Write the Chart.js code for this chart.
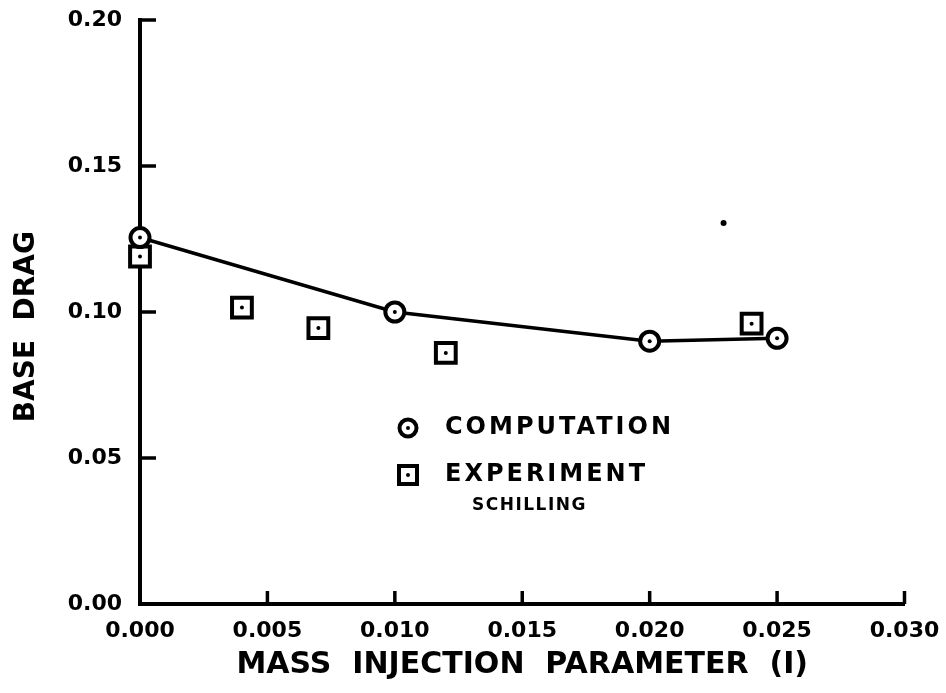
<!DOCTYPE html>
<html>
<head>
<meta charset="utf-8">
<script src="https://cdn.jsdelivr.net/npm/chart.js@4.4.0/dist/chart.umd.min.js"></script>
<style>
    html, body { margin: 0; padding: 0; background: #fff; }
    #wrap { width: 946px; height: 693px; }
</style>
</head>
<body>
<div id="wrap"><canvas id="baseDragChart" width="946" height="693"></canvas></div>
<script>
// --- Data ---
const computedInjection = [0.000, 0.010, 0.020, 0.025];
const computedDrag = [0.1255, 0.100, 0.090, 0.091];

const schillingInjection = [0.000, 0.004, 0.007, 0.012, 0.024];
const schillingDrag = [0.119, 0.1015, 0.0945, 0.086, 0.096];

// lone speck above the curve
const speckInjection = [0.0229];
const speckDrag = [0.1305];

const xTickValues = [0.000, 0.005, 0.010, 0.015, 0.020, 0.025, 0.030];
const yTickValues = [0.00, 0.05, 0.10, 0.15, 0.20];

const legendLabels = ['COMPUTATION', 'EXPERIMENT'];
const legendNote = 'SCHILLING';

const INK = '#000';
const FONT = "'DejaVu Sans', sans-serif";

const toPoints = (xs, ys) => xs.map((x, i) => ({ x: x, y: ys[i] }));

// drop the extra room chart.js reserves for overhanging tick labels,
// so the layout padding alone places the plot area
const noOverhang = (scale) => {
    scale.paddingTop = 0;
    scale.paddingBottom = 0;
    scale.paddingLeft = 0;
    scale.paddingRight = 0;
};

// --- Inward ticks on both axes ---
const inwardTicks = {
    id: 'inwardTicks',
    afterDraw: (chart) => {
        const { ctx, chartArea, scales } = chart;
        ctx.save();
        ctx.strokeStyle = INK;
        ctx.lineWidth = 3.5;
        ctx.lineCap = 'butt';
        yTickValues.forEach(v => {
            if (v === 0) return;
            const py = scales.y.getPixelForValue(v);
            ctx.beginPath();
            ctx.moveTo(chartArea.left, py);
            ctx.lineTo(chartArea.left + 16, py);
            ctx.stroke();
        });
        xTickValues.forEach(v => {
            if (v === 0) return;
            const px = scales.x.getPixelForValue(v);
            ctx.beginPath();
            ctx.moveTo(px, chartArea.bottom);
            ctx.lineTo(px, chartArea.bottom - 13);
            ctx.stroke();
        });
        ctx.restore();
    }
};

// --- Small dot in the middle of each marker ---
const centerDots = {
    id: 'centerDots',
    afterDatasetsDraw: (chart) => {
        const { ctx } = chart;
        ctx.save();
        ctx.fillStyle = INK;
        chart.data.datasets.forEach((ds, i) => {
            if (!ds.centerDot) return;
            chart.getDatasetMeta(i).data.forEach(pt => {
                ctx.beginPath();
                ctx.arc(pt.x, pt.y, 2, 0, Math.PI * 2);
                ctx.fill();
            });
        });
        ctx.restore();
    }
};

// --- Legend inside the plot ---
const innerLegend = {
    id: 'innerLegend',
    afterDraw: (chart) => {
        const { ctx, chartArea } = chart;
        const mx = chartArea.left + 268;
        const tx = chartArea.left + 305;
        const row1 = 428, row2 = 475;
        ctx.save();
        ctx.strokeStyle = INK;
        ctx.fillStyle = '#fff';
        ctx.lineWidth = 4;

        ctx.beginPath();
        ctx.arc(mx, row1, 8.5, 0, Math.PI * 2);
        ctx.fill();
        ctx.stroke();

        ctx.beginPath();
        ctx.rect(mx - 9, row2 - 9, 18, 18);
        ctx.fill();
        ctx.stroke();

        ctx.fillStyle = INK;
        [row1, row2].forEach(r => {
            ctx.beginPath();
            ctx.arc(mx, r, 2, 0, Math.PI * 2);
            ctx.fill();
        });

        ctx.textAlign = 'left';
        ctx.textBaseline = 'middle';
        ctx.font = 'bold 24px ' + FONT;
        ctx.letterSpacing = '3px';
        ctx.fillText(legendLabels[0], tx, row1);
        ctx.fillText(legendLabels[1], tx, row2);
        ctx.font = 'bold 17px ' + FONT;
        ctx.letterSpacing = '1.5px';
        ctx.fillText(legendNote, tx + 27, 506);
        ctx.restore();
    }
};

Chart.defaults.font.family = FONT;
Chart.defaults.color = INK;

new Chart(document.getElementById('baseDragChart'), {
    type: 'scatter',
    data: {
        datasets: [{
            label: 'Computation',
            data: toPoints(computedInjection, computedDrag),
            showLine: true,
            borderColor: INK,
            borderWidth: 3.5,
            pointStyle: 'circle',
            pointRadius: 9.5,
            pointBorderWidth: 4,
            pointBorderColor: INK,
            pointBackgroundColor: '#fff',
            centerDot: true,
            clip: false
        }, {
            label: 'Experiment (Schilling)',
            data: toPoints(schillingInjection, schillingDrag),
            showLine: false,
            pointStyle: 'rect',
            pointRadius: 14,
            pointBorderWidth: 4,
            pointBorderColor: INK,
            pointBackgroundColor: '#fff',
            centerDot: true,
            clip: false
        }, {
            label: 'speck',
            data: toPoints(speckInjection, speckDrag),
            pointRadius: 3,
            pointBorderWidth: 0,
            pointBackgroundColor: INK
        }]
    },
    plugins: [inwardTicks, centerDots, innerLegend],
    options: {
        responsive: false,
        animation: false,
        layout: { padding: { top: 20, right: 41.5, bottom: 0, left: 0 } },
        plugins: {
            legend: { display: false },
            tooltip: { enabled: false }
        },
        scales: {
            x: {
                type: 'linear',
                min: 0,
                max: 0.03,
                afterBuildTicks: (scale) => {
                    scale.ticks = xTickValues.map(v => ({ value: v }));
                },
                afterFit: (scale) => {
                    scale.height = 89;
                    noOverhang(scale);
                },
                grid: { display: false, drawTicks: false },
                border: { display: true, color: INK, width: 4 },
                ticks: {
                    padding: 14,
                    font: { size: 22, weight: 'bold' },
                    color: INK,
                    callback: (v) => Number(v).toFixed(3)
                },
                title: {
                    display: true,
                    text: 'MASS  INJECTION  PARAMETER  (I)',
                    font: { size: 30, weight: 'bold' },
                    color: INK,
                    padding: { top: 0, bottom: 10 }
                }
            },
            y: {
                type: 'linear',
                min: 0,
                max: 0.2,
                afterBuildTicks: (scale) => {
                    scale.ticks = yTickValues.map(v => ({ value: v }));
                },
                afterFit: (scale) => {
                    scale.width = 140;
                    noOverhang(scale);
                },
                grid: { display: false, drawTicks: false },
                border: { display: true, color: INK, width: 4 },
                ticks: {
                    padding: 18,
                    font: { size: 22, weight: 'bold' },
                    color: INK,
                    callback: (v) => Number(v).toFixed(2)
                },
                title: {
                    display: true,
                    // trailing spaces nudge the rotated title downwards
                    text: 'BASE  DRAG   ',
                    font: { size: 28, weight: 'bold' },
                    color: INK,
                    padding: { top: 10, bottom: 0 }
                }
            }
        }
    }
});
</script>
</body>
</html>
